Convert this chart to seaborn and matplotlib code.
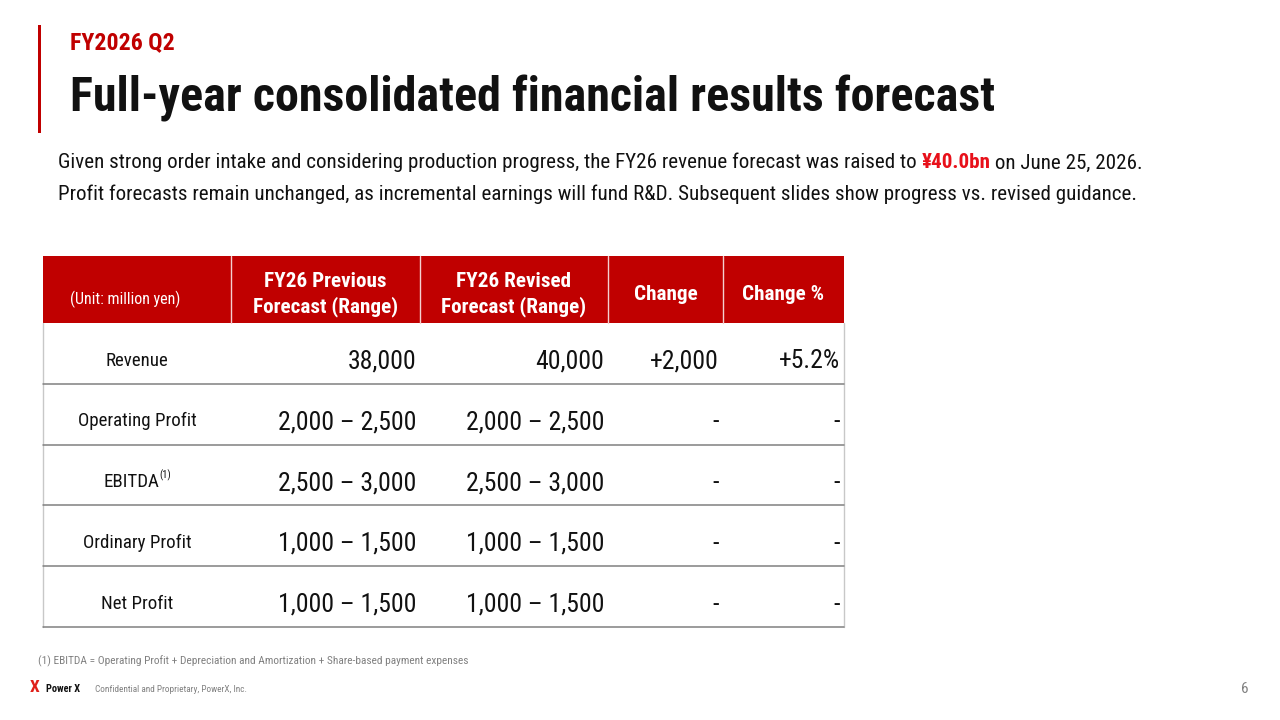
import matplotlib
matplotlib.use("Agg")
import matplotlib.pyplot as plt
from matplotlib import font_manager as fm
from matplotlib.patches import Rectangle
import numpy as np
import pandas as pd
import seaborn as sns

# ---------------- data ----------------
kicker = "FY2026 Q2"
title = "Full-year consolidated financial results forecast"
sub_line1 = ["Given strong order intake and considering production progress, the FY26 revenue forecast was raised to ",
             "¥40.0bn", " on June 25, 2026."]
sub_line2 = "Profit forecasts remain unchanged, as incremental earnings will fund R&D. Subsequent slides show progress vs. revised guidance."

unit_label = "(Unit: million yen)"
col_headers = ["FY26 Previous\nForecast (Range)", "FY26 Revised\nForecast (Range)", "Change", "Change %"]
row_labels = ["Revenue", "Operating Profit", "EBITDA", "Ordinary Profit", "Net Profit"]
row_notes = ["", "", "(1)", "", ""]
prev_forecast = ["38,000", "2,000 – 2,500", "2,500 – 3,000", "1,000 – 1,500", "1,000 – 1,500"]
revised_forecast = ["40,000", "2,000 – 2,500", "2,500 – 3,000", "1,000 – 1,500", "1,000 – 1,500"]
change = ["+2,000", "-", "-", "-", "-"]
change_pct = ["+5.2%", "-", "-", "-", "-"]
footnote = "(1) EBITDA = Operating Profit + Depreciation and Amortization + Share-based payment expenses"
brand = "Power X"
confidential = "Confidential and Proprietary, PowerX, Inc."
page_no = "6"

table = pd.DataFrame({"label": row_labels, "note": row_notes, "prev": prev_forecast,
                      "revised": revised_forecast, "change": change, "pct": change_pct})

# ---------------- style ----------------
sns.set_theme(style="white")


def pick(cands):
    for c in cands:
        try:
            fm.findfont(fm.FontProperties(family=c), fallback_to_default=False)
            return c
        except Exception:
            pass
    return "DejaVu Sans"


FONT = pick(["Roboto Condensed", "Liberation Sans Narrow", "DejaVu Sans"])
plt.rcParams["font.family"] = [FONT, "DejaVu Sans"]

RED = "#C00000"
BRIGHT_RED = "#E8101A"
INK = "#111111"
GRAY = "#808080"

fig = plt.figure(figsize=(12.8, 7.2), dpi=100)
fig.patch.set_facecolor("white")
ax = fig.add_axes([0, 0, 1, 1])
ax.set_xlim(0, 1280)
ax.set_ylim(720, 0)
ax.axis("off")
renderer = fig.canvas.get_renderer()


def width_of(s, **kw):
    t = ax.text(0, 0, "|" + s + "|", **kw)
    w = t.get_window_extent(renderer=renderer).width
    t.remove()
    t2 = ax.text(0, 0, "||", **kw)
    w2 = t2.get_window_extent(renderer=renderer).width
    t2.remove()
    return w - w2


def fit_size(s, target, base=20, **kw):
    return base * target / width_of(s, fontsize=base, **kw)


# left accent bar
ax.add_patch(Rectangle((37.5, 25), 3.5, 108, color=RED, lw=0))

# kicker + title
ax.text(70, 49.5, kicker, fontsize=fit_size(kicker, 105, fontweight="bold"),
        fontweight="bold", color=RED, va="baseline", ha="left")
ax.text(70, 111, title, fontsize=fit_size(title, 925, fontweight="bold"),
        fontweight="bold", color=INK, va="baseline", ha="left")

# subtitle line 1 with highlighted segment
styles = [dict(color=INK), dict(color=BRIGHT_RED, fontweight="bold"), dict(color=INK)]
base = 20
tot = sum(width_of(s, fontsize=base, **st) for s, st in zip(sub_line1, styles))
fs_sub = base * 1085 / tot
x = 58
for s, st in zip(sub_line1, styles):
    ax.text(x, 168.5, s, fontsize=fs_sub, va="baseline", ha="left", **st)
    x += width_of(s, fontsize=fs_sub, **st)
ax.text(58, 199.5, sub_line2, fontsize=fs_sub, color=INK, va="baseline", ha="left")

# ---------------- table ----------------
col_w = [188, 189, 188, 115, 121]
edges = np.concatenate([[43], 43 + np.cumsum(col_w)])
head_top, head_h, row_h = 256, 67, 60.8
body_top = head_top + head_h
n_rows = len(table)
body_bot = body_top + n_rows * row_h

# header fill
ax.add_patch(Rectangle((edges[0], head_top), edges[-1] - edges[0], head_h, color=RED, lw=0))
for e in edges[1:-1]:
    ax.plot([e, e], [head_top, body_top], color="#F4D0D0", lw=1.0)

hdr_fs = 15.2
ax.text(125, 304, unit_label, fontsize=11.5, color="white", ha="center", va="baseline")
for j, h in enumerate(col_headers):
    cx = (edges[j + 1] + edges[j + 2]) / 2
    lines = h.split("\n")
    if len(lines) == 2:
        ax.text(cx, 287, lines[0], fontsize=hdr_fs, fontweight="bold", color="white",
                ha="center", va="baseline")
        ax.text(cx, 312, lines[1], fontsize=hdr_fs, fontweight="bold", color="white",
                ha="center", va="baseline")
    else:
        ax.text(cx, 300, lines[0], fontsize=hdr_fs, fontweight="bold", color="white",
                ha="center", va="baseline")

# body borders
ax.plot([edges[0], edges[0]], [body_top, body_bot], color="#C8C8C8", lw=1.0)
ax.plot([edges[-1], edges[-1]], [body_top, body_bot], color="#C8C8C8", lw=1.0)
for i in range(n_rows):
    yb = body_top + (i + 1) * row_h
    ax.plot([edges[0], edges[-1]], [yb, yb], color="#808080", lw=1.1)

lab_fs, val_fs = 13.6, 18.5
for i, r in table.iterrows():
    top = body_top + i * row_h
    cx = (edges[0] + edges[1]) / 2
    if r["note"]:
        wl = width_of(r["label"], fontsize=lab_fs)
        wn = width_of(r["note"], fontsize=7.5)
        x0 = cx - (wl + wn) / 2
        ax.text(x0, top + 42.5, r["label"], fontsize=lab_fs, color=INK, ha="left", va="baseline")
        ax.text(x0 + wl + 0.5, top + 34, r["note"], fontsize=7.5, color=INK, ha="left", va="baseline")
    else:
        ax.text(cx, top + 42.5, r["label"], fontsize=lab_fs, color=INK, ha="center", va="baseline")
    for j, key in enumerate(["prev", "revised", "change", "pct"]):
        ax.text(edges[j + 2] - 4, top + 45.5, r[key], fontsize=val_fs, color=INK,
                ha="right", va="baseline")

# ---------------- footer ----------------
ax.text(38, 664.5, footnote, fontsize=fit_size(footnote, 429), color=GRAY, ha="left", va="baseline")
ax.text(30, 692, "X", fontsize=12.5, fontweight="bold", color="#E0201A", ha="left", va="baseline")
ax.text(46, 692, brand, fontsize=fit_size(brand, 34, fontweight="bold"), fontweight="bold",
        color=INK, ha="left", va="baseline")
ax.text(95, 691.5, confidential, fontsize=fit_size(confidential, 151), color=GRAY,
        ha="left", va="baseline")
ax.text(1249, 693, page_no, fontsize=11, color=GRAY, ha="right", va="baseline")

fig.savefig("out.png", dpi=100, facecolor="white")
